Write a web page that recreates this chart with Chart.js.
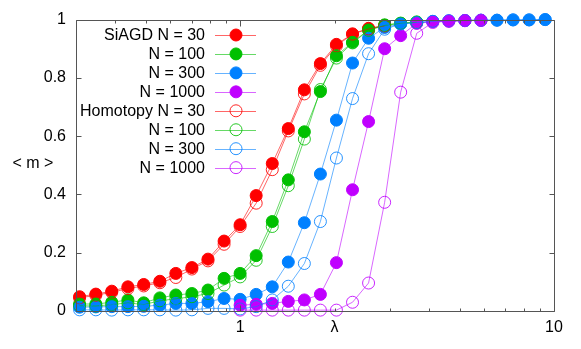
<!DOCTYPE html>
<html><head><meta charset="utf-8">
<script src="https://cdn.jsdelivr.net/npm/chart.js@4/dist/chart.umd.min.js"></script>
<style>html,body{margin:0;padding:0;background:#fff;}canvas{display:block}</style>
</head><body>
<canvas id="c" width="581" height="349"></canvas>
<script>
const lambda = [0.308,0.347,0.390,0.439,0.493,0.555,0.624,0.702,0.790,0.889,1.000,1.125,1.266,1.424,1.602,1.802,2.027,2.281,2.566,2.887,3.247,3.653,4.110,4.624,5.202,5.852,6.583,7.406,8.332,9.373];
const siagd30 = [0.049,0.058,0.068,0.083,0.091,0.102,0.129,0.149,0.178,0.240,0.296,0.396,0.506,0.626,0.759,0.849,0.915,0.951,0.970,0.980,null,null,null,null,null,null,null,null,null,null];
const siagd100 = [0.024,0.024,0.030,0.038,0.028,0.045,0.055,0.060,0.072,0.112,0.129,0.190,0.307,0.450,0.615,0.753,0.876,0.922,0.965,0.982,0.988,0.992,null,null,null,null,null,null,null,null];
const siagd300 = [0.013,0.014,0.015,0.015,0.016,0.020,0.026,0.026,0.032,0.043,0.040,0.057,0.083,0.168,0.303,0.470,0.655,0.851,0.936,0.973,0.985,0.990,0.994,0.996,0.997,0.998,0.998,0.999,0.999,1.000];
const siagd1000 = [null,null,null,null,null,null,null,null,null,null,0.020,0.023,0.026,0.033,0.038,0.057,0.166,0.416,0.650,0.900,0.945,0.987,0.993,0.994,0.996,0.997,null,null,null,null];
const homotopy30 = [0.045,0.054,0.064,0.077,0.086,0.097,0.115,0.144,0.172,0.229,0.290,0.370,0.485,0.618,0.745,0.843,0.910,0.950,0.968,0.978,null,null,null,null,null,null,null,null,null,null];
const homotopy100 = [0.018,0.017,0.022,0.028,0.022,0.035,0.042,0.049,0.060,0.089,0.117,0.174,0.290,0.430,0.590,0.760,0.868,0.920,0.963,0.980,0.987,0.991,null,null,null,null,null,null,null,null];
const homotopy300 = [0.004,0.004,0.003,0.004,0.004,0.004,0.003,0.004,0.009,0.009,0.007,0.015,0.038,0.085,0.163,0.307,0.525,0.729,0.883,0.967,0.985,0.990,0.994,0.996,0.997,0.998,0.998,0.999,0.999,1.000];
const homotopy1000 = [null,null,null,null,null,null,null,null,null,null,0.003,0.003,0.003,0.003,0.003,0.003,0.003,0.030,0.096,0.373,0.751,0.953,0.990,0.995,0.997,0.998,null,null,null,null];

const seriesNames = ['SiAGD N = 30','N = 100','N = 300','N = 1000','Homotopy N = 30','N = 100','N = 300','N = 1000'];
const seriesValues = [siagd30,siagd100,siagd300,siagd1000,homotopy30,homotopy100,homotopy300,homotopy1000];
const xTickLabels = [1, 10];
const xMinorTicks = [0.3,0.4,0.5,0.6,0.7,0.8,0.9,2,3,4,5,6,7,8,9];
const yTickLabels = [0,0.2,0.4,0.6,0.8,1];
const xTitle = 'λ';
const yTitle = '< m >';

const markerColors = ['#ff0000','#00c000','#0080ff','#c000ff'];
const lineColors = ['rgba(255,0,0,0.6)','rgba(0,192,0,0.6)','rgba(0,128,255,0.6)','rgba(192,0,255,0.6)'];
const FONT = '"Liberation Sans", Arial, sans-serif';

function pts(arr){ return lambda.map((x,i)=>({x:x,y:arr[i]})).filter(p=>p.y!==null); }

const datasets = seriesValues.map((arr,i)=>{
  const c = i%4; const open = i>=4;
  return {
    label: seriesNames[i], data: pts(arr), order: -i, clip: false,
    borderColor: lineColors[c], borderWidth: 1, tension: 0,
    pointRadius: 6, pointHoverRadius: 6,
    pointBackgroundColor: open ? 'rgba(0,0,0,0)' : markerColors[c],
    pointBorderColor: open ? lineColors[c].replace('0.6','0.85') : markerColors[c],
    pointBorderWidth: 1
  };
});

const frame = {
  id:'frame',
  afterDatasetsDraw(chart){
    const {ctx, chartArea:a, scales:{x,y}} = chart;
    ctx.save();
    ctx.strokeStyle = '#555'; ctx.lineWidth = 1;
    ctx.beginPath();
    const L=Math.round(a.left)+0.5, R=Math.round(a.right)+0.5, T=Math.round(a.top)+0.5, B=Math.round(a.bottom)+0.5;
    ctx.rect(L,T,R-L,B-T); ctx.stroke();
    ctx.beginPath();
    xTickLabels.forEach(v=>{const px=Math.round(x.getPixelForValue(v))+0.5; ctx.moveTo(px,B); ctx.lineTo(px,B-6); ctx.moveTo(px,T); ctx.lineTo(px,T+6);});
    xMinorTicks.forEach(v=>{const px=Math.round(x.getPixelForValue(v))+0.5; ctx.moveTo(px,B); ctx.lineTo(px,B-3); ctx.moveTo(px,T); ctx.lineTo(px,T+3);});
    yTickLabels.forEach(v=>{const py=Math.round(y.getPixelForValue(v))+0.5; ctx.moveTo(L,py); ctx.lineTo(L+5,py); ctx.moveTo(R,py); ctx.lineTo(R-5,py);});
    ctx.stroke();
    ctx.restore();
  },
  afterDraw(chart){
    const ctx = chart.ctx;
    ctx.save();
    ctx.font = '16px '+FONT; ctx.fillStyle = '#000';
    ctx.textAlign='center'; ctx.textBaseline='middle';
    ctx.fillText(yTitle, 33, 164);
    ctx.fillText(xTitle, chart.scales.x.getPixelForValue(2), 328);
    // legend
    const textRight = 205, lx0 = 215, lx1 = 256, mx = 236;
    seriesNames.forEach((name,i)=>{
      const yy = 35 + i*18.95; const c=i%4; const open=i>=4;
      ctx.textAlign='right'; ctx.fillStyle='#000';
      ctx.fillText(name, textRight, yy+1);
      ctx.strokeStyle = lineColors[c]; ctx.lineWidth=1;
      ctx.beginPath(); ctx.moveTo(lx0, Math.round(yy)+0.5); ctx.lineTo(lx1, Math.round(yy)+0.5); ctx.stroke();
      ctx.beginPath(); ctx.arc(mx, yy, 6, 0, Math.PI*2);
      if(!open){ ctx.fillStyle=markerColors[c]; ctx.fill(); ctx.strokeStyle=markerColors[c]; ctx.stroke(); }
      else { ctx.strokeStyle=lineColors[c].replace('0.6','0.85'); ctx.stroke(); }
    });
    ctx.restore();
  }
};

new Chart(document.getElementById('c'), {
  type:'line',
  data:{datasets},
  options:{
    responsive:false, animation:false, devicePixelRatio:1,
    layout:{padding:{top:18,right:27,left:0,bottom:0}},
    plugins:{legend:{display:false}, tooltip:{enabled:false}},
    scales:{
      x:{type:'logarithmic', min:0.3, max:10,
        grid:{display:false, drawTicks:false}, border:{display:false},
        afterBuildTicks(s){ s.ticks = xTickLabels.map(v=>({value:v})); },
        afterFit(s){ s.height = 38; },
        ticks:{autoSkip:false, maxRotation:0, padding:7, color:'#000', font:{family:FONT,size:16},
          callback:(v)=> String(v)}},
      y:{min:0, max:1,
        grid:{display:false, drawTicks:false}, border:{display:false},
        afterBuildTicks(s){ s.ticks = yTickLabels.map(v=>({value:v})); },
        afterFit(s){ s.width = 76; },
        ticks:{padding:10, color:'#000', font:{family:FONT,size:16}, callback:(v)=>String(v)}}
    }
  },
  plugins:[frame]
});
</script>
</body></html>
